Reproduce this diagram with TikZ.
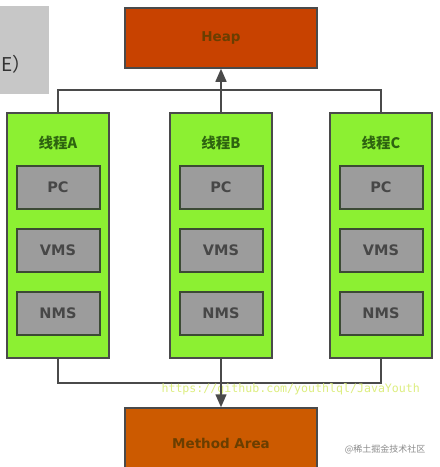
\documentclass[tikz,border=0pt]{standalone}
\usepackage{fontspec}
\setmainfont{DejaVu Sans}
\newfontfamily\cjk{Noto Sans CJK SC}
\newfontfamily\monof{DejaVu Sans Mono}
\usetikzlibrary{arrows.meta}
\definecolor{heapc}{HTML}{C84200}
\definecolor{methc}{HTML}{CC5A00}
\definecolor{thrc}{HTML}{8CF032}
\definecolor{innc}{HTML}{9C9C9C}
\definecolor{bordc}{HTML}{4A4A4A}
\definecolor{innb}{HTML}{3C4A34}
\definecolor{titc}{HTML}{2E6410}
\definecolor{areatx}{HTML}{6A3E00}
\definecolor{urlc}{HTML}{DDEE80}
\tikzset{
  x=1pt, y=-1pt,
  area/.style={draw=bordc, line width=1.5pt, minimum width=192pt, minimum height=60pt, inner sep=0pt, font=\bfseries\fontsize{13.5}{13.5}\selectfont, text=areatx},
  thread/.style={draw=bordc, fill=thrc, line width=1.5pt, minimum width=102pt, minimum height=245pt, inner sep=0pt},
  inner/.style={draw=innb, fill=innc, line width=2pt, minimum width=83pt, minimum height=43pt, inner sep=0pt, font=\bfseries\fontsize{14.5}{14.5}\selectfont, text=black!72},
  ttl/.style={font=\cjk\bfseries\fontsize{14.5}{14.5}\selectfont, text=titc},
  conn/.style={draw=bordc, line width=1.5pt},
  arr/.style={conn, -{Triangle[length=13pt,width=11pt]}}
}
\begin{document}
\begin{tikzpicture}
\useasboundingbox (0,0) rectangle (440,467);
\clip (0,0) rectangle (440,467);
\fill[white] (0,0) rectangle (440,467);
% gray box at top-left
\fill[black!22] (0,6) rectangle (49,94);
\node[font=\cjk\fontsize{19}{19}\selectfont, text=black!80, anchor=west, inner sep=0pt] (side) at (1,64) {E）};
% areas
\node[area, fill=heapc] (heap) at (221,38) {Heap};
\node[area, fill=methc, minimum height=70pt] (meth) at (221,443) {Method Area};
% threads
\foreach \n/\x/\l in {A/58/A, B/221/B, C/381/C}{
  \node[thread] (t\n) at (\x,235.5) {};
  \node[ttl] (tt\n) at (\x,143) {线程\l};
  \node[inner] (pc\n) at (\x,187.5) {PC};
  \node[inner] (vm\n) at (\x,250.5) {VMS};
  \node[inner] (nm\n) at (\x,313.5) {NMS};
}
\coordinate (topA) at (58,90);
\coordinate (topB) at (221,90);
\coordinate (topC) at (381,90);
\coordinate (botA) at (58,383);
\coordinate (botB) at (221,383);
\coordinate (botC) at (381,383);
\draw[conn] (tA.north) -- (topA) -- (topC) -- (tC.north);
\draw[conn] (tB.north) -- (topB);
\draw[arr] (topB) -- (heap.south);
\draw[conn] (tA.south) -- (botA) -- (botC) -- (tC.south);
\node[font=\monof\fontsize{11.6}{11.6}\selectfont, text=urlc, anchor=west] (url) at (158,389) {https://github.com/youthlql/JavaYouth};
\draw[arr] (tB.south) -- (meth.north);
\node[font=\cjk\fontsize{9}{9}\selectfont, text=black!45, anchor=east] (wm) at (429,449) {@稀土掘金技术社区};
\end{tikzpicture}
\end{document}
